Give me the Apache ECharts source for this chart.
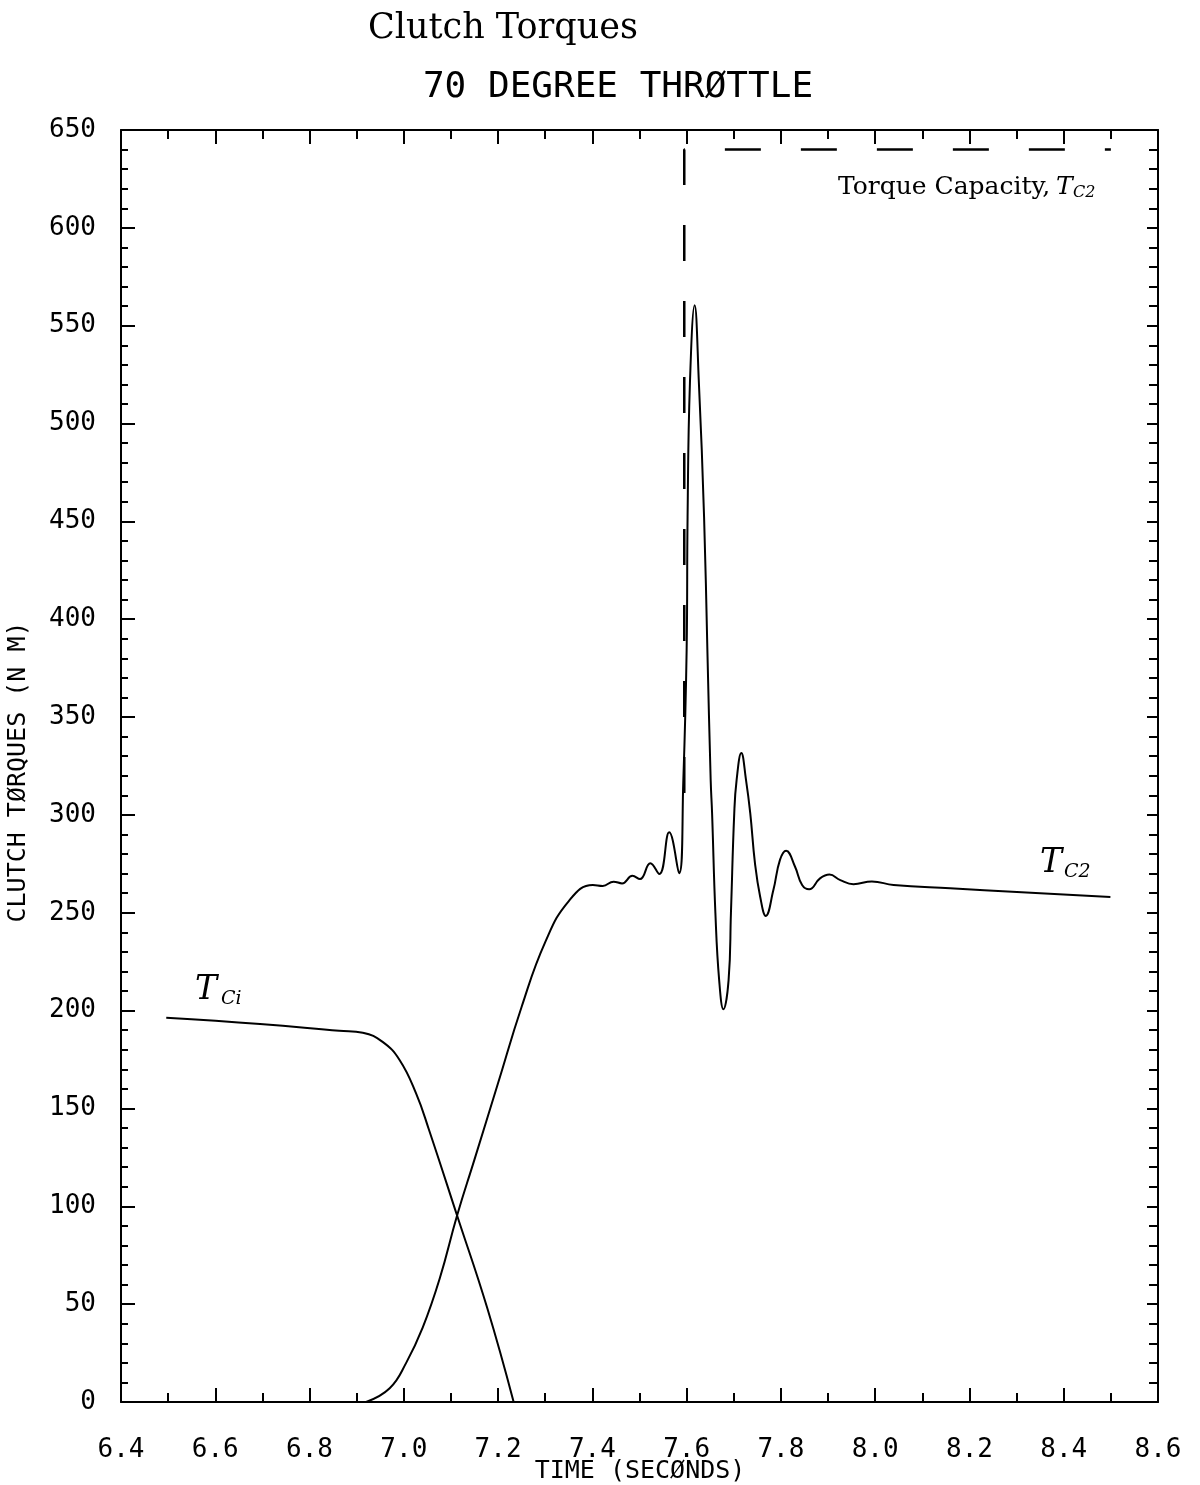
<!DOCTYPE html>
<html lang="en" style="height: 100%">
<head>
    <meta charset="utf-8">
</head>
<body style="height: 100%; margin: 0; background: #fff">
<div id="main" style="width: 1200px; height: 1485px"></div>
<script src="https://cdn.jsdelivr.net/npm/echarts@6/dist/echarts.min.js"></script>
<script type="text/javascript">
    // clutch 1 (off-going) torque
    var tc1Time = [6.496, 6.695, 6.863, 6.913, 6.955, 6.991, 7.026, 7.053, 7.113, 7.177, 7.233];
    var tc1Torque = [196.4, 193.2, 189.7, 188.7, 184.0, 174.8, 157.7, 139.4, 95.3, 48.0, 0];

    // clutch 2 (on-coming) torque
    var tc2Time = [6.92, 6.97, 7.005, 7.04, 7.076, 7.113, 7.15, 7.2, 7.25, 7.3,
        7.35, 7.401, 7.422, 7.445, 7.463, 7.485, 7.501, 7.523, 7.542, 7.563, 7.584, 7.593, 7.600,
        7.602, 7.607, 7.617, 7.626, 7.637, 7.644, 7.651, 7.654, 7.661, 7.669, 7.678, 7.689, 7.694,
        7.701, 7.706, 7.716, 7.726, 7.735, 7.745, 7.756, 7.768, 7.784, 7.798, 7.811, 7.830, 7.845,
        7.860, 7.883, 7.903, 7.926, 7.954, 7.993, 8.039, 8.159, 8.499];
    var tc2Torque = [0, 7.0, 20.0, 38.0, 63.0, 95.3, 124, 163, 202, 235,
        256, 264.2, 263.7, 265.9, 265.0, 268.9, 267.2, 275.3, 269.8, 291.1, 270.2, 317.8, 384.3,
        452.2, 520.7, 560.5, 520.7, 452.2, 384.3, 317.8, 300.8, 249.9, 215.6, 200.7, 215.6, 249.9,
        300.8, 317.8, 331.6, 317.8, 300.8, 275.3, 258.2, 248.4, 261.6, 277.0, 281.7, 273.5, 264.2,
        262.0, 267.6, 269.5, 266.7, 264.6, 266.0, 264.2, 262.5, 258.0];

    // torque capacity of clutch 2 (dashed), drawn from the right end
    var capTime = [8.5, 7.595, 7.595];
    var capTorque = [640, 640, 305];

    var xTicks = {min: 6.4, max: 8.6, step: 0.2};
    var yTicks = {min: 0, max: 650, step: 50};

    function zip(xs, ys) {
        var out = [];
        for (var i = 0; i < xs.length; i++) out.push([xs[i], ys[i]]);
        return out;
    }

    var mono = '"DejaVu Sans Mono", monospace';
    var serif = '"DejaVu Serif", serif';
    var black = '#000';

    var chart = echarts.init(document.getElementById('main'), null, {renderer: 'canvas'});

    function xAxisCfg(pos, showLabel) {
        return {
            type: 'value', position: pos,
            min: xTicks.min, max: xTicks.max, interval: xTicks.step,
            axisLine: {onZero: false, lineStyle: {color: black, width: 2}},
            axisTick: {inside: true, length: 14, lineStyle: {color: black, width: 2}},
            minorTick: {show: true, splitNumber: 2, length: 9, lineStyle: {color: black, width: 2}},
            splitLine: {show: false},
            minorSplitLine: {show: false},
            axisLabel: {
                show: showLabel, margin: 35, color: black,
                fontFamily: mono, fontSize: 26,
                formatter: function (v) { return v.toFixed(1); }
            }
        };
    }

    function yAxisCfg(pos, showLabel, major, minor) {
        return {
            type: 'value', position: pos,
            min: yTicks.min, max: yTicks.max, interval: yTicks.step,
            axisLine: {onZero: false, lineStyle: {color: black, width: 2}},
            axisTick: {inside: true, length: major, lineStyle: {color: black, width: 2}},
            minorTick: {show: true, splitNumber: 5, length: minor, lineStyle: {color: black, width: 2}},
            splitLine: {show: false},
            minorSplitLine: {show: false},
            axisLabel: {show: showLabel, margin: 25, color: black, fontFamily: mono, fontSize: 26}
        };
    }

    chart.setOption({
        animation: false,
        backgroundColor: '#fff',
        grid: {left: 121, right: 42, top: 130, bottom: 83, outerBoundsMode: 'none'},
        xAxis: [xAxisCfg('bottom', true), xAxisCfg('top', false)],
        yAxis: [yAxisCfg('left', true, 14, 7), yAxisCfg('right', false, 11, 9)],
        series: [
            {
                name: 'Tc1', type: 'line', data: zip(tc1Time, tc1Torque),
                showSymbol: false, symbol: 'none', smooth: 0.45,
                lineStyle: {color: black, width: 2}
            },
            {
                name: 'Tc2', type: 'line', data: zip(tc2Time, tc2Torque),
                showSymbol: false, symbol: 'none', smooth: 0.45,
                lineStyle: {color: black, width: 2}
            },
            {
                name: 'Capacity', type: 'line', data: zip(capTime, capTorque),
                showSymbol: false, symbol: 'none',
                lineStyle: {color: black, width: 2.5, type: [36, 40], dashOffset: 30}
            }
        ],
        graphic: [
            {type: 'text', left: 368, top: 11,
                style: {text: 'Clutch Torques', font: '35px ' + serif, fill: black}},
            {type: 'text', x: 618, y: 88,
                style: {text: '70 DEGREE THRØTTLE', font: '36px ' + mono, fill: black,
                    align: 'center', verticalAlign: 'middle'}},
            {type: 'text', x: 640, y: 1471,
                style: {text: 'TIME (SECØNDS)', font: '25px ' + mono, fill: black,
                    align: 'center', verticalAlign: 'middle'}},
            {type: 'text', x: 18, y: 772, rotation: Math.PI / 2,
                style: {text: 'CLUTCH TØRQUES (N M)', font: '25px ' + mono, fill: black,
                    align: 'center', verticalAlign: 'middle'}},
            // labels on the curves
            {type: 'text', x: 195, y: 990,
                style: {text: 'T', font: 'italic 33px ' + serif, fill: black, verticalAlign: 'middle'}},
            {type: 'text', x: 221, y: 999,
                style: {text: 'Ci', font: 'italic 19px ' + serif, fill: black, verticalAlign: 'middle'}},
            {type: 'text', x: 1040, y: 863,
                style: {text: 'T', font: 'italic 33px ' + serif, fill: black, verticalAlign: 'middle'}},
            {type: 'text', x: 1064, y: 872,
                style: {text: 'C2', font: 'italic 19px ' + serif, fill: black, verticalAlign: 'middle'}},
            {type: 'text', x: 838, y: 187,
                style: {text: 'Torque Capacity,', font: '25px ' + serif, fill: black, verticalAlign: 'middle'}},
            {type: 'text', x: 1056, y: 187,
                style: {text: 'T', font: 'italic 25px ' + serif, fill: black, verticalAlign: 'middle'}},
            {type: 'text', x: 1073, y: 193,
                style: {text: 'C2', font: 'italic 16px ' + serif, fill: black, verticalAlign: 'middle'}}
        ]
    });
</script>
</body>
</html>
